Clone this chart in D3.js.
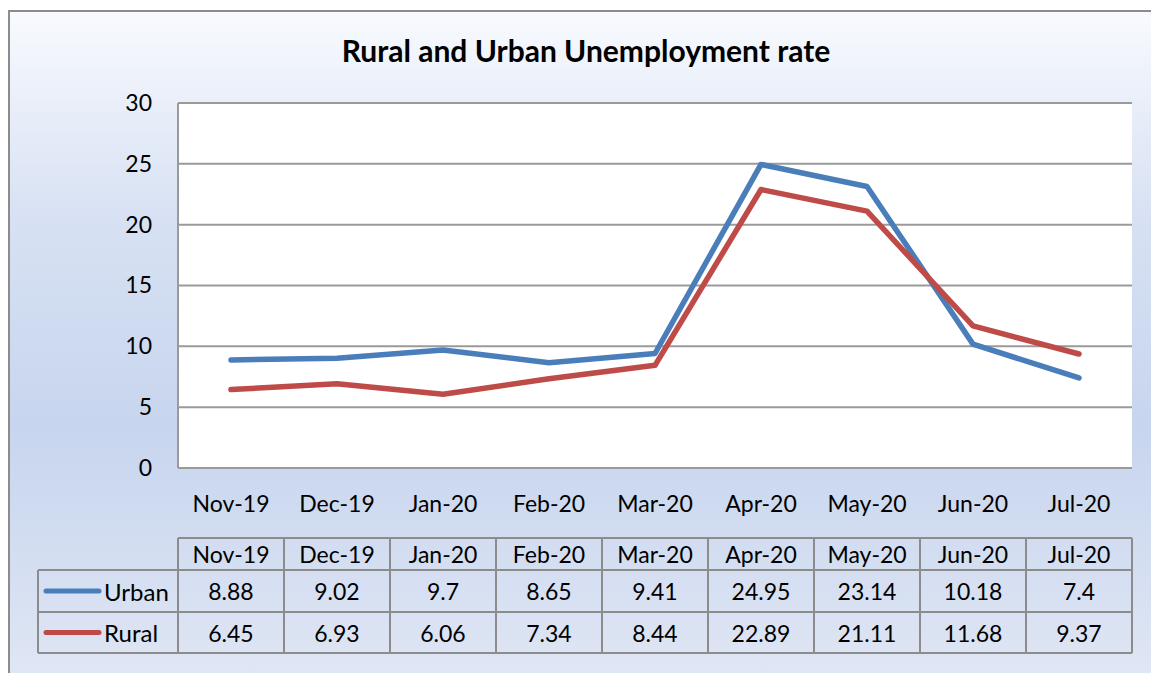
<!DOCTYPE html>
<html><head><meta charset="utf-8">
<script src="https://cdn.jsdelivr.net/npm/d3@7"></script>
<style>html,body{margin:0;padding:0;background:#fff;}svg{display:block;}</style>
</head><body>
<script>
const categories = ["Nov-19","Dec-19","Jan-20","Feb-20","Mar-20","Apr-20","May-20","Jun-20","Jul-20"];
const urban = [8.88, 9.02, 9.7, 8.65, 9.41, 24.95, 23.14, 10.18, 7.4];
const rural = [6.45, 6.93, 6.06, 7.34, 8.44, 22.89, 21.11, 11.68, 9.37];
const urbanLabels = ["8.88","9.02","9.7","8.65","9.41","24.95","23.14","10.18","7.4"];
const ruralLabels = ["6.45","6.93","6.06","7.34","8.44","22.89","21.11","11.68","9.37"];
const yTicks = [0,5,10,15,20,25,30];
const title = "Rural and Urban Unemployment rate";

const W = 1151, H = 673;
const FONT = "Lato, 'Liberation Sans', sans-serif";
const svg = d3.select("body").append("svg").attr("width", W).attr("height", H);

const defs = svg.append("defs");
const g = defs.append("linearGradient").attr("id","bg").attr("x1",0).attr("y1",0).attr("x2",0).attr("y2",1);
[[0,"#f8fafe"],[0.3,"#d7e1f3"],[0.6,"#c7d5ee"],[1,"#e2e8f5"]].forEach(([o,c])=>g.append("stop").attr("offset",o).attr("stop-color",c));

svg.append("rect").attr("x",9).attr("y",11).attr("width",W+20).attr("height",H+20)
  .attr("fill","url(#bg)").attr("stroke","#8c8c8c").attr("stroke-width",2);

const L = 178, R = 1132, T = 103, B = 468;
const y = d3.scaleLinear().domain([0,30]).range([B,T]);
const xb = d3.scaleBand().domain(categories).range([L,R]);
const x = d => xb(d) + xb.bandwidth()/2;

svg.append("rect").attr("x",L).attr("y",T).attr("width",R-L).attr("height",B-T).attr("fill","#fff");

// gridlines
svg.append("g").selectAll("line").data(yTicks).join("line")
  .attr("x1",L).attr("x2",R).attr("y1",d=>y(d)).attr("y2",d=>y(d))
  .attr("stroke","#9a9a9a").attr("stroke-width",2);
svg.append("line").attr("x1",L).attr("x2",L).attr("y1",T).attr("y2",B).attr("stroke","#9a9a9a").attr("stroke-width",2);

// y axis labels
const yAxis = d3.axisLeft(y).tickValues(yTicks).tickSize(0).tickPadding(26);
const ya = svg.append("g").attr("transform",`translate(${L},0)`).call(yAxis);
ya.select(".domain").remove();
ya.selectAll("text").attr("font-family",FONT).attr("font-size",23).attr("fill","#000");

// x axis labels
const xAxis = d3.axisBottom(xb).tickSize(0).tickPadding(28);
const xa = svg.append("g").attr("transform",`translate(0,${B})`).call(xAxis);
xa.select(".domain").remove();
xa.selectAll("text").attr("font-family",FONT).attr("font-size",23).attr("fill","#000");

// title
svg.append("text").attr("x",586).attr("y",62).attr("text-anchor","middle")
  .attr("font-family",FONT).attr("font-weight","bold").attr("font-size",30).attr("fill","#000").text(title);

// lines
const line = d3.line().x((d,i)=>x(categories[i])).y(d=>y(d));
svg.append("path").datum(urban).attr("d",line).attr("fill","none").attr("stroke","#4a7ebb").attr("stroke-width",5.5).attr("stroke-linejoin","round").attr("stroke-linecap","round");
svg.append("path").datum(rural).attr("d",line).attr("fill","none").attr("stroke","#be4b48").attr("stroke-width",5.5).attr("stroke-linejoin","round").attr("stroke-linecap","round");

// data table
const tT = 538, tH = 570, tU = 612, tB = 653, tL = 38;
const tg = svg.append("g");
const stroke = "#8c8c8c";
tg.append("line").attr("x1",L).attr("x2",R).attr("y1",tT).attr("y2",tT).attr("stroke",stroke).attr("stroke-width",2);
[tH,tU,tB].forEach(v=>tg.append("line").attr("x1",tL).attr("x2",R).attr("y1",v).attr("y2",v).attr("stroke",stroke).attr("stroke-width",2));
tg.append("line").attr("x1",tL).attr("x2",tL).attr("y1",tH).attr("y2",tB).attr("stroke",stroke).attr("stroke-width",2);
const vx = categories.map(c=>xb(c)).concat([R]);
tg.selectAll("line.v").data(vx).join("line").attr("class","v")
  .attr("x1",d=>d).attr("x2",d=>d).attr("y1",tT).attr("y2",tB).attr("stroke",stroke).attr("stroke-width",2);

const txt = (sel)=>sel.attr("font-family",FONT).attr("font-size",23).attr("fill","#000").attr("dominant-baseline","central");
tg.selectAll("text.h").data(categories).join("text").attr("class","h")
  .attr("x",d=>x(d)).attr("y",(tT+tH)/2).attr("text-anchor","middle").text(d=>d).call(txt);
tg.selectAll("text.u").data(urbanLabels).join("text").attr("class","u")
  .attr("x",(d,i)=>x(categories[i])).attr("y",(tH+tU)/2).attr("text-anchor","middle").text(d=>d).call(txt);
tg.selectAll("text.r").data(ruralLabels).join("text").attr("class","r")
  .attr("x",(d,i)=>x(categories[i])).attr("y",(tU+tB)/2).attr("text-anchor","middle").text(d=>d).call(txt);

// legend keys
const series = [["Urban","#4a7ebb",(tH+tU)/2],["Rural","#be4b48",(tU+tB)/2]];
series.forEach(([n,c,cy])=>{
  tg.append("line").attr("x1",46).attr("x2",99).attr("y1",cy).attr("y2",cy).attr("stroke",c).attr("stroke-width",5).attr("stroke-linecap","round");
  tg.append("text").attr("x",104).attr("y",cy).attr("font-size",24).text(n).call(txt).attr("font-size",24);
});
</script>
</body></html>
